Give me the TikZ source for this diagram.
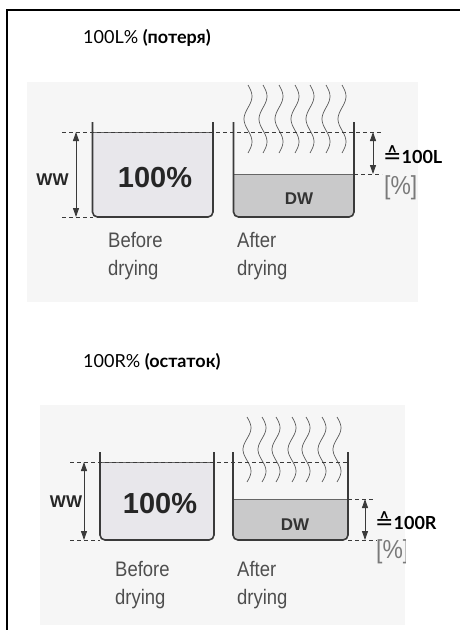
\documentclass[tikz,border=0pt]{standalone}
\usepackage{fontspec}
\setmainfont{Liberation Sans}
\newfontfamily\titlefont{Lato}
\newfontfamily\narrowfont[FakeStretch=0.88]{Liberation Sans}
\newfontfamily\symfont{DejaVu Sans}
\usepackage{tikz}
\usetikzlibrary{arrows.meta,calc}

\definecolor{panelbg}{HTML}{F6F6F6}
\definecolor{wetfill}{HTML}{E8E7EB}
\definecolor{dryfill}{HTML}{C9C9CA}
\definecolor{wallcol}{HTML}{3A3A3A}
\definecolor{labelgray}{HTML}{4E4E4E}
\definecolor{unitgray}{HTML}{7A7A7A}

% beaker: left x, right x, rim y, level y, bottom y, fill
\newcommand{\drawbeaker}[6]{%
  \fill[#6, rounded corners=5pt] (#1,#4) -- (#1,#5) -- (#2,#5) -- (#2,#4);
  \draw[gray!80!black, line width=0.8pt] (#1,#4) -- (#2,#4);
  \draw[wallcol, line width=1.6pt, rounded corners=5pt] (#1,#3) -- (#1,#5) -- (#2,#5) -- (#2,#3);
}

\begin{document}
\begin{tikzpicture}[x=1pt, y=-1pt,
    guide/.style={draw=wallcol, line width=0.8pt, dash pattern=on 4pt off 3pt},
    dimarrow/.style={wallcol, line width=0.9pt, {Triangle[length=9pt,width=6pt]}-{Triangle[length=9pt,width=6pt]}},
    steam/.style={gray!70!black, line width=0.7pt},
    titletext/.style={font=\titlefont\fontsize{18}{20}\selectfont, anchor=base west, inner sep=0pt},
    wwlabel/.style={font=\bfseries\fontsize{17}{20}\selectfont, text=black!85, inner sep=0pt},
    bigpct/.style={font=\bfseries\fontsize{29}{32}\selectfont, text=black!85, inner sep=0pt},
    dwlabel/.style={font=\bfseries\fontsize{17}{20}\selectfont, text=black!80, inner sep=0pt},
    caption/.style={font=\narrowfont\fontsize{21}{28}\selectfont, text=labelgray, align=left, anchor=north west, inner sep=0pt},
    reflabel/.style={font=\titlefont\bfseries\fontsize{18}{20}\selectfont, anchor=west, inner sep=0pt},
    unitlabel/.style={font=\narrowfont\fontsize{26}{28}\selectfont, text=unitgray, anchor=west, inner sep=0pt}]
    \useasboundingbox (0,0) rectangle (460,630);

    % Frame
    \draw[line width=1.5pt] (7,630) -- (7,10) -- (460,10);

    % Top panel: loss
    \fill[panelbg] (27,82) rectangle (418,302);
    \node[titletext] (losstitle) at (83,43) {100L\% \textbf{(потеря)}};

    \foreach \wx in {248,263,279,295,310,326,342}
        \draw[steam] plot[domain=0:1, samples=30, smooth, variable=\t] ({\wx+4*sin(540*\t)}, {85+68*\t});

    \drawbeaker{92.5}{213}{122}{132}{217}{wetfill}
    \drawbeaker{233.5}{354}{122}{174}{217}{dryfill}

    \coordinate (lossguideL) at (62,132);
    \coordinate (lossguideR) at (382,132);
    \coordinate (lossbaseL) at (62,217);
    \coordinate (lossbaseR) at (92.5,217);
    \coordinate (lossdryL) at (354,174);
    \coordinate (lossdryR) at (382,174);
    \draw[guide] (lossguideL) -- (lossguideR);
    \draw[guide] (lossbaseL) -- (lossbaseR);
    \draw[guide] (lossdryL) -- (lossdryR);

    \coordinate (losswwtop) at (76,132);
    \coordinate (losswwbot) at (76,217);
    \coordinate (losslosstop) at (373,132);
    \coordinate (losslossbot) at (373,174);
    \draw[dimarrow] (losswwtop) -- (losswwbot);
    \draw[dimarrow] (losslosstop) -- (losslossbot);

    \node[wwlabel] (lossww) at (52.5,180) {WW};
    \node[bigpct] (losswet) at (155,178) {100\%};
    \node[dwlabel] (lossdw) at (299,198.5) {DW};
    \node[reflabel] (lossref) at (383,155) {{\symfont\mdseries\fontsize{22}{22}\selectfont ≙}100L};
    \node[unitlabel] (lossunit) at (384,188) {[\%]};
    \node[caption] (lossbefore) at (108,232) {Before\\drying};
    \node[caption] (lossafter) at (237,232) {After\\drying};

    % Bottom panel: residue
    \fill[panelbg] (40,405) rectangle (405,625);
    \node[titletext] (restitle) at (83,367) {100R\% \textbf{(остаток)}};

    \foreach \wx in {247,262,276,292,306,322,337}
        \draw[steam] plot[domain=0:1, samples=30, smooth, variable=\t] ({\wx+4*sin(540*\t)}, {417+65*\t});

    \drawbeaker{100}{214}{452}{462}{540}{wetfill}
    \drawbeaker{233}{348}{452}{499}{540}{dryfill}

    \coordinate (resguideL) at (70,462);
    \coordinate (resguideR) at (348,462);
    \coordinate (resbaseL) at (70,540);
    \coordinate (resbaseM) at (100,540);
    \coordinate (resbaseN) at (348,540);
    \coordinate (resbaseR) at (377,540);
    \coordinate (resdryL) at (348,499);
    \coordinate (resdryR) at (375,499);
    \draw[guide] (resguideL) -- (resguideR);
    \draw[guide] (resbaseL) -- (resbaseM);
    \draw[guide] (resbaseN) -- (resbaseR);
    \draw[guide] (resdryL) -- (resdryR);

    \coordinate (reswwtop) at (84,462);
    \coordinate (reswwbot) at (84,540);
    \coordinate (resrestop) at (365,499);
    \coordinate (resresbot) at (365,540);
    \draw[dimarrow] (reswwtop) -- (reswwbot);
    \draw[dimarrow] (resrestop) -- (resresbot);

    \node[wwlabel] (resww) at (66,502) {WW};
    \node[bigpct] (reswet) at (160,504) {100\%};
    \node[dwlabel] (resdw) at (295,525) {DW};
    \node[reflabel] (resref) at (375,521) {{\symfont\mdseries\fontsize{22}{22}\selectfont ≙}100R};
    \begin{scope}
        \clip (0,405) rectangle (405,630);
        \node[unitlabel] (resunit) at (376,552) {[\%]};
    \end{scope}
    \node[caption] (resbefore) at (115,561) {Before\\drying};
    \node[caption] (resafter) at (237,561) {After\\drying};
\end{tikzpicture}
\end{document}
